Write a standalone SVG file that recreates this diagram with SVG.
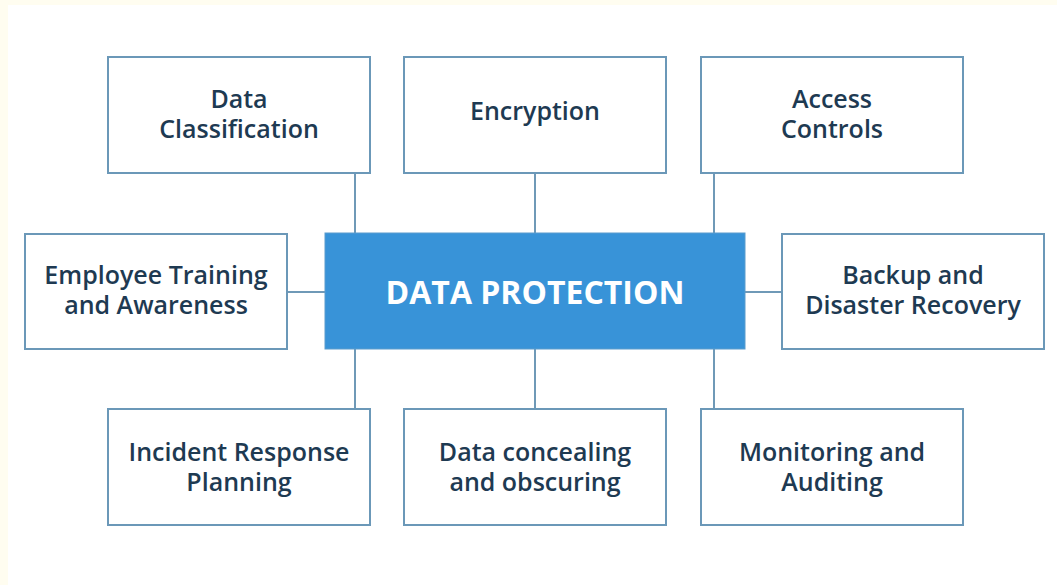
<svg xmlns="http://www.w3.org/2000/svg" width="1057" height="585" viewBox="0 0 1057 585">
  <style>
    .box { fill: #ffffff; stroke: #6b98b8; stroke-width: 2; }
    .hub { fill: #3893d8; stroke: #5a9ccd; stroke-width: 1; }
    .label { font-family: "Open Sans", "Liberation Sans", sans-serif; font-weight: 600; font-size: 25px; fill: #1e3a52; text-anchor: middle; }
    .hub-label { font-family: "Open Sans", "Liberation Sans", sans-serif; font-weight: 700; font-size: 32px; fill: #ffffff; text-anchor: middle; }
    .link { stroke: #6f99b7; stroke-width: 2; fill: none; }
  </style>

  <!-- page background with warm margin strip -->
  <rect x="0" y="0" width="1057" height="585" fill="#fffdf0"/>
  <rect x="8" y="5" width="1049" height="580" fill="#ffffff"/>

  <!-- connectors from the hub to each topic -->
  <g id="connectors">
    <line class="link" x1="355" y1="173" x2="355" y2="233"/>
    <line class="link" x1="535" y1="173" x2="535" y2="233"/>
    <line class="link" x1="714" y1="173" x2="714" y2="233"/>
    <line class="link" x1="355" y1="349" x2="355" y2="409"/>
    <line class="link" x1="535" y1="349" x2="535" y2="409"/>
    <line class="link" x1="714" y1="349" x2="714" y2="409"/>
    <line class="link" x1="287" y1="292" x2="325" y2="292"/>
    <line class="link" x1="745" y1="292" x2="782" y2="292"/>
  </g>

  <g id="hub">
    <rect class="hub" x="325" y="233" width="420" height="116"/>
    <text class="hub-label" x="535" y="304">DATA PROTECTION</text>
  </g>

  <g id="data-classification">
    <rect class="box" x="108" y="57" width="262" height="116"/>
    <text class="label" x="239" y="108">Data</text>
    <text class="label" x="239" y="138">Classification</text>
  </g>

  <g id="encryption">
    <rect class="box" x="404" y="57" width="262" height="116"/>
    <text class="label" x="535" y="120">Encryption</text>
  </g>

  <g id="access-controls">
    <rect class="box" x="701" y="57" width="262" height="116"/>
    <text class="label" x="832" y="108">Access</text>
    <text class="label" x="832" y="138">Controls</text>
  </g>

  <g id="employee-training">
    <rect class="box" x="25" y="234" width="262" height="115"/>
    <text class="label" x="156" y="284">Employee Training</text>
    <text class="label" x="156" y="314">and Awareness</text>
  </g>

  <g id="backup-recovery">
    <rect class="box" x="782" y="234" width="262" height="115"/>
    <text class="label" x="913" y="284">Backup and</text>
    <text class="label" x="913" y="314">Disaster Recovery</text>
  </g>

  <g id="incident-response">
    <rect class="box" x="108" y="409" width="262" height="116"/>
    <text class="label" x="239" y="461">Incident Response</text>
    <text class="label" x="239" y="491">Planning</text>
  </g>

  <g id="data-concealing">
    <rect class="box" x="404" y="409" width="262" height="116"/>
    <text class="label" x="535" y="461">Data concealing</text>
    <text class="label" x="535" y="491">and obscuring</text>
  </g>

  <g id="monitoring-auditing">
    <rect class="box" x="701" y="409" width="262" height="116"/>
    <text class="label" x="832" y="461">Monitoring and</text>
    <text class="label" x="832" y="491">Auditing</text>
  </g>
</svg>
